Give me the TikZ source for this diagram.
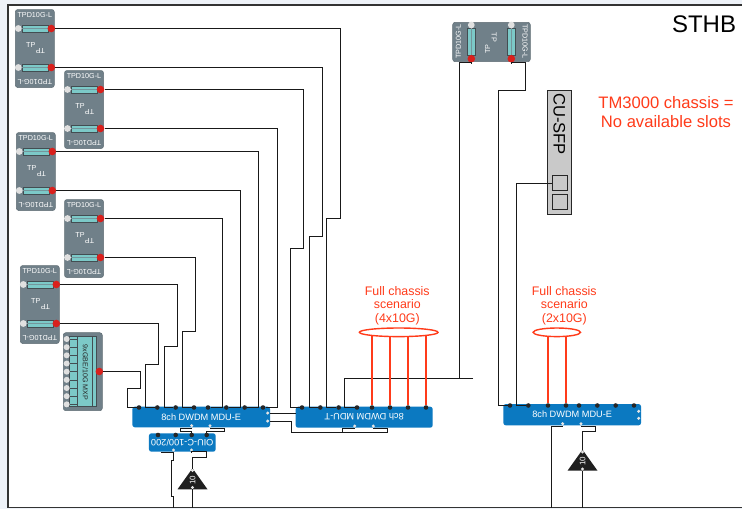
\documentclass[tikz,border=0pt]{standalone}
\usepackage{fontspec}
\setmainfont{Liberation Sans}
\usetikzlibrary{shapes.geometric}

\definecolor{pagetint}{HTML}{EEF2F8}
\definecolor{cardgrey}{HTML}{708089}
\definecolor{barteal}{HTML}{7CC9C8}
\definecolor{portred}{HTML}{D9201C}
\definecolor{dwdmblue}{HTML}{0B79C1}
\definecolor{noteorange}{HTML}{FF3B1A}
\definecolor{sfpgrey}{HTML}{C9C9C9}

% transponder card: name, left edge, top edge
\newcommand{\tpcard}[3]{
  \begin{scope}[shift={(#2,#3)}]
    \node[cardbody] (#1) at (19.5,39) {};
    \node[cardtext] (#1-top) at (19.5,5.6) {TPD10G-L};
    \node[cardtext, rotate=180] (#1-bot) at (19.5,72) {TPD10G-L};
    \node[cardtext] (#1-tp) at (15.5,36) {TP};
    \node[cardtext, rotate=180] (#1-pt) at (25,41.5) {TP};
    \node[hbar] (#1-abar) at (20,19) {};
    \node[hbar] (#1-bbar) at (20,58) {};
    \draw[barline] (#1-abar.west) -- (#1-abar.east);
    \draw[barline] (#1-bbar.west) -- (#1-bbar.east);
    \node[whitedot] (#1-ain) at (3,19) {};
    \node[whitedot] (#1-bin) at (3,58) {};
    \node[reddot] (#1-aout) at (36,19) {};
    \node[reddot] (#1-bout) at (36,58) {};
  \end{scope}
}

\begin{document}
\begin{tikzpicture}[x=1pt, y=-1pt,
    every node/.style={inner sep=0pt, align=center},
    cardbody/.style={rectangle, rounded corners=2.5pt, fill=cardgrey, draw=cardgrey!85!black, line width=0.5pt, minimum width=39pt, minimum height=78pt},
    cardtext/.style={text=white, font=\fontsize{7.2}{8}\selectfont},
    hbar/.style={rectangle, fill=barteal, draw=cardgrey!60!black, line width=0.5pt, minimum width=26.3pt, minimum height=6.7pt},
    vbar/.style={hbar, minimum width=7.6pt, minimum height=26.3pt},
    barline/.style={draw=cardgrey!70!barteal, line width=0.4pt},
    whitedot/.style={circle, fill=white!88!black, minimum size=6.8pt},
    reddot/.style={circle, fill=portred, minimum size=7.6pt},
    tinydot/.style={circle, fill=white!90!black, minimum size=3.4pt},
    blackdot/.style={circle, fill=black!85, minimum size=4.6pt},
    mdubox/.style={rectangle, rounded corners=2.5pt, fill=dwdmblue, text=white, font=\fontsize{9.2}{10}\selectfont},
    wire/.style={draw=black!90, line width=1pt},
    redwire/.style={draw=noteorange, line width=2pt},
    ring/.style={ellipse, draw=noteorange, line width=1.4pt, fill=white, minimum height=8.6pt},
    note/.style={text=noteorange, font=\fontsize{12.4}{13.2}\selectfont},
    ampbody/.style={fill=black!88}]

  % frame
  \useasboundingbox (0,0) rectangle (742,509);
  \fill[pagetint] (0,0) rectangle (742,509);
  \draw[fill=white, draw=black!80, line width=1.5pt] (8,5) rectangle (750,507.7);
  \node[font=\fontsize{24}{26}\selectfont] (sthb) at (704,24.5) {STHB};

  % cards
  \tpcard{tpA}{15.3}{9.5}
  \tpcard{tpB}{64.5}{70.5}
  \tpcard{tpC}{16.3}{132.5}
  \tpcard{tpD}{64.5}{199.5}
  \tpcard{tpE}{20.3}{265.5}

  \node[cardbody] (hz) at (491.5,42) [minimum width=77.6pt, minimum height=39.4pt] {};
  \node[cardtext, rotate=90] (hz-left) at (458.3,41.7) {TPD10G-L};
  \node[cardtext, rotate=-90] (hz-right) at (525,41.7) {TPD10G-L};
  \node[cardtext, rotate=-90] (hz-tp) at (494,37.3) {TP};
  \node[cardtext, rotate=90] (hz-pt) at (487.7,49.3) {TP};
  \node[vbar] (hz-abar) at (471.5,41.8) {};
  \node[vbar] (hz-bbar) at (511.5,41.8) {};
  \draw[barline] (hz-abar.north) -- (hz-abar.south);
  \draw[barline] (hz-bbar.north) -- (hz-bbar.south);
  \node[whitedot] (hz-ain) at (471.3,25) {};
  \node[whitedot] (hz-bin) at (511.3,25) {};
  \node[reddot] (hz-aout) at (471.3,58.7) {};
  \node[reddot] (hz-bout) at (511.3,58.7) {};

  % mux card
  \node[cardbody, minimum height=78pt] (mxp) at (82.8,371.7) {};
  \node[rectangle, fill=barteal, draw=cardgrey!60!black, line width=0.5pt, minimum width=26.7pt, minimum height=70pt] (mxp-panel) at (82.7,371.7) {};
  \draw[barline, draw=cardgrey!60!black] (77.3,336.7) -- (77.3,406.7);
  \draw[barline, draw=cardgrey!60!black] (92.3,336.7) -- (92.3,406.7);
  \foreach \i in {0,...,8} {
    \draw[barline, draw=cardgrey!60!black] (69.3,{339+8.17*\i}) -- (77.3,{339+8.17*\i});
    \node[whitedot, minimum size=6pt] (mxp-in\i) at (66.7,{339+8.17*\i}) {};
  }
  \node[rotate=-90, text=black!85, font=\fontsize{7.1}{8}\selectfont] (mxp-text) at (85.3,372.5) {9xGBE/10G MXP};
  \node[reddot] (mxp-out) at (99.3,371.5) {};

  % pluggable
  \node[rectangle, fill=sfpgrey, draw=black!85, line width=1pt, minimum width=24pt, minimum height=124pt] (sfp) at (559.7,152) {};
  \node[rotate=-90, font=\fontsize{16.6}{18}\selectfont] (sfp-text) at (559.3,124) {CU-SFP};
  \node[rectangle, draw=black!85, line width=1pt, minimum size=14.7pt] (sfpA) at (559.7,183) {};
  \node[rectangle, draw=black!85, line width=1pt, minimum size=14.7pt] (sfpB) at (559.7,201.8) {};

  % DWDM units
  \node[mdubox, minimum width=137.7pt, minimum height=20.6pt] (mduE) at (201.2,417) {8ch DWDM MDU-E};
  \node[mdubox, rotate=180, minimum width=137pt, minimum height=21pt] (mduT) at (364.2,417.2) {8ch DWDM MDU-T};
  \node[mdubox, minimum width=137.7pt, minimum height=21.3pt] (mduR) at (572.2,414.7) {8ch DWDM MDU-E};
  \node[mdubox, rotate=180, minimum width=66.7pt, minimum height=18.4pt] (oiu) at (182.3,442.5) {OIU-C-100/200};

  \foreach \px [count=\i] in {139,157.3,175.7,194,208,226.3,244.7,263}
    \node[blackdot] (mduEt\i) at (\px,407.5) {};
  \foreach \px [count=\i] in {302,320.3,338.7,357,372,390,408,426}
    \node[blackdot] (mduTt\i) at (\px,407.5) {};
  \foreach \px [count=\i] in {510,528.3,548,566,579,597.3,615.7,634}
    \node[blackdot] (mduRt\i) at (\px,405.5) {};
  \foreach \px [count=\i] in {158,175.7,191.7,206.7}
    \node[blackdot] (oiut\i) at (\px,435) {};

  \node[tinydot] (mduEr1) at (267.7,413) {};
  \node[tinydot] (mduEr2) at (267.7,421) {};
  \node[tinydot] (mduEb1) at (191.7,425.7) {};
  \node[tinydot] (mduEb2) at (210,425.7) {};
  \node[tinydot] (mduTb1) at (354.7,426) {};
  \node[tinydot] (mduTb2) at (373.3,426) {};
  \node[tinydot] (mduRr1) at (638.7,411.3) {};
  \node[tinydot] (mduRr2) at (638.7,418.3) {};
  \node[tinydot] (mduRb1) at (562.7,423.7) {};
  \node[tinydot] (mduRb2) at (581,423.7) {};
  \node[tinydot] (oiub1) at (173.5,450) {};
  \node[tinydot] (oiub2) at (191.5,450) {};

  % amplifiers
  \coordinate (ampAtop) at (192.5,468.3);
  \coordinate (ampAl) at (177.5,489.3);
  \coordinate (ampAr) at (207.5,489.3);
  \fill[ampbody] (ampAtop) -- (ampAr) -- (ampAl) -- cycle;
  \node[tinydot] (ampAin) at (192.5,470.5) {};
  \node[tinydot] (ampAout) at (192.5,487.5) {};
  \node[rotate=90, text=white, font=\fontsize{8}{9}\selectfont] (ampAtext) at (192.5,480) {10};
  \coordinate (ampBtop) at (582.5,449.7);
  \coordinate (ampBl) at (567.5,470.7);
  \coordinate (ampBr) at (597.5,470.7);
  \fill[ampbody] (ampBtop) -- (ampBr) -- (ampBl) -- cycle;
  \node[tinydot] (ampBin) at (582.5,452) {};
  \node[tinydot] (ampBout) at (582.5,469) {};
  \node[rotate=90, text=white, font=\fontsize{8}{9}\selectfont] (ampBtext) at (582.5,461.5) {10};

  % free ends
  \coordinate (endTline) at (473,378.5);
  \coordinate (endT) at (295.7,413);
  \coordinate (endA) at (173.5,507.7);
  \coordinate (endB) at (192.5,507.7);
  \coordinate (endC) at (551,507.7);
  \coordinate (endD) at (582.5,507.7);

  % client wires
  \draw[wire] (tpA-aout) -| (340,218.5) -| (326.5,407.5) -- (mduTt3);
  \draw[wire] (tpA-bout) -| (322,236.5) -| (309,407.5) -- (mduTt2);
  \draw[wire] (tpB-aout) -| (303.5,248.5) -| (290,407.5) -- (mduTt1);
  \draw[wire] (tpB-bout) -| (277,407.5) -- (mduEt8);
  \draw[wire] (tpC-aout) -| (258.5,407.5) -- (mduEt7);
  \draw[wire] (tpC-bout) -| (240.5,407.5) -- (mduEt6);
  \draw[wire] (tpD-aout) -| (222.5,407.5) -- (mduEt5);
  \draw[wire] (tpD-bout) -| (195,331.5) -| (182,407.5) -- (mduEt4);
  \draw[wire] (tpE-aout) -| (177,346.5) -| (164,407.5) -- (mduEt3);
  \draw[wire] (tpE-bout) -| (158.5,364.5) -| (145.5,407.5) -- (mduEt2);
  \draw[wire] (mxp-out) -| (140.5,388.5) -| (127.5,407.5) -- (mduEt1);
  \draw[wire] (hz-aout) |- (459.5,62.5) -- (459.5,378.5);
  \draw[wire] (endTline) -| (344.5,407.5) -- (mduTt4);
  \draw[wire] (hz-bout) |- (525,62.5) |- (498.5,90.5) -- (498.5,405.5) -- (mduRt1);
  \draw[wire] (sfpA) -| (516.5,405.5) -- (mduRt2);

  % line side wires
  \draw[wire] (mduEr1) -- (endT);
  \draw[wire] (mduEr2) -| (291.5,432.5) -| (387.5,428.5) -| (mduTb2);
  \draw[wire] (mduTb1) |- (342.5,428.5) |- (356,432.5);
  \draw[wire] (mduEb1) |- (180,428.5) |- (191.7,431.5) -- (oiut3);
  \draw[wire] (mduEb2) |- (224.5,428.5) |- (206.7,431.5) -- (oiut4);
  \draw[wire] (oiub1) |- (161,452.5);
  \draw[wire] (oiub1) -- (173.5,460.5) -| (171.5,496) -| (endA);
  \draw[wire] (oiub2) |- (206,451.5) |- (192.5,457.5) -- (ampAin);
  \draw[wire] (ampAout) -- (endB);
  \draw[wire] (mduRb1) |- (551,426) -- (endC);
  \draw[wire] (mduRb2) |- (595.5,426.5) |- (582.5,431.5) -- (ampBin);
  \draw[wire] (ampBout) -- (endD);

  % full chassis notes
  \coordinate (scenT) at (398.7,332.3);
  \coordinate (scenR) at (556.8,332.3);
  \draw[redwire] (mduTt5) -- (mduTt5 |- scenT);
  \draw[redwire] (mduTt6) -- (mduTt6 |- scenT);
  \draw[redwire] (mduTt7) -- (mduTt7 |- scenT);
  \draw[redwire] (mduTt8) -- (mduTt8 |- scenT);
  \draw[redwire] (mduRt3) -- (mduRt3 |- scenR);
  \draw[redwire] (mduRt4) -- (mduRt4 |- scenR);
  \node[ring, minimum width=78.6pt] (scenTring) at (scenT) {};
  \node[ring, minimum width=47.4pt] (scenRring) at (scenR) {};
  \node[note] (scenTtext) at (397.3,305.7) {Full chassis\\scenario\\(4x10G)};
  \node[note] (scenRtext) at (564.3,305.7) {Full chassis\\scenario\\(2x10G)};
  \node[note, font=\fontsize{16.6}{19}\selectfont] (slotnote) at (666,112.5) {TM3000 chassis =\\No available slots};
\end{tikzpicture}
\end{document}
